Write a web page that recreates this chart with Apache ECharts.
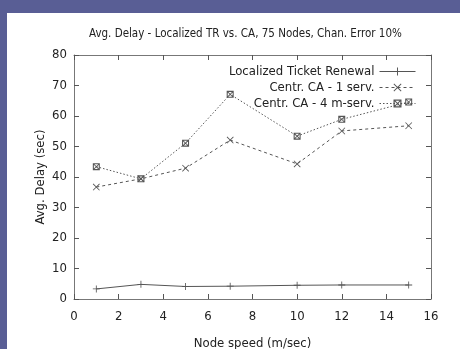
<!DOCTYPE html>
<html>
<head>
<meta charset="utf-8">
<script src="https://cdn.jsdelivr.net/npm/echarts@6/dist/echarts.min.js"></script>
<style type="text/css">
    *{
        padding: 0;
        margin: 0;
    }
    body{
        width: 460px;
        height: 349px;
        overflow: hidden;
        background: #595e95;
    }
    .panel{
        position: absolute;
        left: 7px;
        top: 13px;
        width: 453px;
        height: 336px;
        background: #fff;
    }
</style>
</head>
<body>
<div class="panel" id="chart1"></div>
<script type="text/javascript">
    // node speed (m/sec)
    let speeds = [1, 3, 5, 7, 10, 12, 15];
    // avg delay (sec)
    let localizedTR = [3.3, 4.8, 4.1, 4.2, 4.5, 4.6, 4.6];
    let centrOne = [36.7, 39.4, 42.9, 52.1, 44.3, 55.1, 56.8];
    let centrFour = [43.4, 39.4, 51.1, 67.1, 53.4, 58.9, 64.6];
    let seriesNames = ['Localized Ticket Renewal', 'Centr. CA - 1 serv.', 'Centr. CA - 4 m-serv.'];

    let font = '"DejaVu Sans Condensed", "Liberation Sans Narrow", "Liberation Sans", sans-serif';
    let ink = '#555';

    function pairs(vals){
        return speeds.map(function (s, i) { return [s, vals[i]]; });
    }

    let plusMark = 'path://M4.4,0H5.6V10H4.4ZM0,4.4H10V5.6H0Z';
    let crossMark = 'path://M0,0.8L0.8,0L10,9.2L9.2,10ZM9.2,0L10,0.8L0.8,10L0,9.2Z';
    let boxMark = 'path://M0,0H10V10H0ZM1.5,1.5V8.5H8.5V1.5ZM0,0.8L0.8,0L10,9.2L9.2,10ZM9.2,0L10,0.8L0.8,10L0,9.2Z';

    function axisBase(show){
        return {
            type: 'value',
            axisLine: {show: true, onZero: false, lineStyle: {color: '#777', width: 1}},
            axisTick: {show: true, inside: true, length: 5, lineStyle: {color: '#555'}},
            splitLine: {show: false},
            axisLabel: {show: show, color: '#222', fontFamily: font, fontSize: 13}
        };
    }

    let xBottom = Object.assign(axisBase(true), {
        min: 0, max: 16, interval: 2, position: 'bottom',
        name: 'Node speed (m/sec)', nameLocation: 'middle', nameGap: 38,
        nameMoveOverlap: false,
        nameTextStyle: {color: '#222', fontFamily: font, fontSize: 13}
    });
    xBottom.axisLabel.margin = 11;
    let xTop = Object.assign(axisBase(false), {min: 0, max: 16, interval: 2, position: 'top'});

    let yLeft = Object.assign(axisBase(true), {
        min: 0, max: 80, interval: 10, position: 'left',
        name: 'Avg. Delay (sec)', nameLocation: 'middle', nameGap: 27,
        nameMoveOverlap: false,
        nameTextStyle: {color: '#222', fontFamily: font, fontSize: 13}
    });
    yLeft.axisLabel.margin = 7;
    let yRight = Object.assign(axisBase(false), {min: 0, max: 80, interval: 10, position: 'right'});

    function lineSeries(name, vals, mark, dash){
        return {
            name: name,
            type: 'line',
            data: pairs(vals),
            symbol: mark,
            symbolSize: 7,
            showSymbol: true,
            xAxisIndex: 0,
            yAxisIndex: 0,
            itemStyle: {color: ink},
            lineStyle: {color: ink, width: 1, type: dash},
            animation: false
        };
    }

    let myChart = echarts.init(document.getElementById('chart1'));
    let option = {
        animation: false,
        title: {
            text: 'Avg. Delay - Localized TR vs. CA, 75 Nodes, Chan. Error 10%',
            left: 77,
            top: 10,
            textStyle: {color: '#222', fontFamily: font, fontSize: 11.5, fontWeight: 'normal'}
        },
        grid: {left: 67, right: 29, top: 42, bottom: 50, outerBoundsMode: 'none', containLabel: false},
        legend: {
            data: seriesNames,
            orient: 'vertical',
            align: 'right',
            right: 39,
            top: 47,
            itemWidth: 36,
            itemHeight: 10,
            itemGap: 3,
            lineStyle: {width: 1},
            textStyle: {color: '#222', fontFamily: font, fontSize: 13}
        },
        xAxis: [xBottom, xTop],
        yAxis: [yLeft, yRight],
        series: [
            lineSeries(seriesNames[0], localizedTR, plusMark, 'solid'),
            lineSeries(seriesNames[1], centrOne, crossMark, [3, 3]),
            lineSeries(seriesNames[2], centrFour, boxMark, [1.5, 2])
        ]
    };
    myChart.setOption(option);
</script>
</body>
</html>
